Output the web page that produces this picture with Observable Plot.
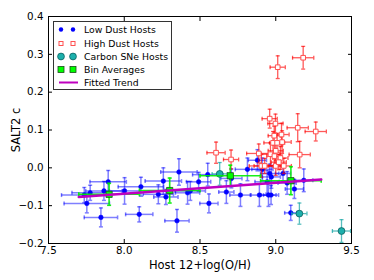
<!DOCTYPE html>
<html>
<head>
<meta charset="utf-8">
<script src="https://cdn.jsdelivr.net/npm/d3@7"></script>
<script src="https://cdn.jsdelivr.net/npm/@observablehq/plot@0.6"></script>
<style>
  html, body { margin: 0; padding: 0; background: #fff; }
  #wrap { position: relative; width: 374px; height: 280px; font-family: "DejaVu Sans", sans-serif; }
  #legend { position: absolute; left: 53px; top: 21px; width: 117px; height: 67px; border: 1px solid #333; background: #fff; box-sizing: content-box; }
  .row { position: absolute; left: 0; height: 13px; display: flex; align-items: center; }
  .row svg { width: 28px; height: 13px; }
  .row span { font-size: 9.3px; color: #000; margin-left: 2px; white-space: nowrap; }
</style>
</head>
<body>
<div id="wrap"></div>
<script>
// Low dust hosts (blue)
const lowX    = [7.736, 7.753, 7.775, 7.846, 7.866, 7.894, 8.002, 8.099, 8.110, 8.225, 8.258, 8.275, 8.348, 8.361, 8.418, 8.436, 8.491, 8.551, 8.559, 8.674, 8.707, 8.767, 8.813, 8.879, 8.892, 8.912, 8.943, 8.952, 8.969, 8.960, 8.971, 9.048, 9.075, 9.099, 9.123, 9.185];
const lowY    = [-0.072, -0.094, -0.066, -0.131, -0.061, -0.037, -0.061, -0.123, -0.050, -0.070, -0.035, -0.077, -0.140, -0.011, -0.066, -0.061, -0.037, -0.018, -0.094, -0.064, -0.028, -0.072, -0.004, 0.020, -0.072, -0.004, -0.037, -0.072, -0.072, -0.015, -0.024, -0.015, -0.040, -0.119, -0.056, -0.033];
const lowXerr = [0.15, 0.15, 0.12, 0.11, 0.12, 0.12, 0.10, 0.09, 0.15, 0.10, 0.12, 0.08, 0.08, 0.12, 0.08, 0.10, 0.08, 0.10, 0.06, 0.05, 0.07, 0.07, 0.08, 0.06, 0.06, 0.07, 0.08, 0.05, 0.05, 0.06, 0.06, 0.05, 0.06, 0.04, 0.06, 0.06];
const lowYerr = [0.020, 0.025, 0.020, 0.025, 0.025, 0.030, 0.035, 0.020, 0.025, 0.025, 0.035, 0.020, 0.030, 0.035, 0.030, 0.025, 0.025, 0.030, 0.025, 0.030, 0.025, 0.030, 0.030, 0.028, 0.030, 0.030, 0.030, 0.030, 0.025, 0.025, 0.030, 0.020, 0.030, 0.020, 0.025, 0.030];

// High dust hosts (red open squares)
const highX    = [8.606, 8.705, 8.888, 8.905, 8.960, 8.998, 9.013, 9.181, 9.145, 9.264, 9.038, 8.982, 9.009, 9.042, 8.965, 8.991, 9.031, 9.158, 8.927, 9.000, 9.053, 8.990, 9.000, 9.020];
const highY    = [0.040, 0.022, 0.038, 0.005, 0.130, 0.117, 0.266, 0.291, 0.106, 0.096, 0.088, 0.066, 0.066, 0.068, 0.036, 0.031, 0.026, 0.035, 0.005, 0.005, 0.005, 0.085, 0.045, 0.015];
const highXerr = [0.06, 0.05, 0.08, 0.08, 0.05, 0.05, 0.05, 0.07, 0.07, 0.07, 0.05, 0.06, 0.05, 0.06, 0.06, 0.05, 0.05, 0.07, 0.07, 0.05, 0.05, 0.04, 0.05, 0.05];
const highYerr = [0.028, 0.025, 0.025, 0.030, 0.025, 0.025, 0.030, 0.030, 0.037, 0.025, 0.030, 0.030, 0.025, 0.030, 0.030, 0.030, 0.030, 0.035, 0.020, 0.025, 0.020, 0.025, 0.025, 0.020];

// Carbon SNe hosts (cyan circles)
const carbonX    = [8.630, 9.156, 9.434];
const carbonY    = [-0.016, -0.121, -0.167];
const carbonXerr = [0.05, 0.05, 0.06];
const carbonYerr = [0.030, 0.028, 0.030];

// Bin averages (green squares)
const binX    = [7.9, 8.3, 8.7, 9.1];
const binY    = [-0.070, -0.060, -0.021, -0.034];
const binXerr = [0.2, 0.2, 0.2, 0.2];
const binYerr = [0.029, 0.033, 0.028, 0.037];

// Fitted trend
const trendX = [7.7, 9.3];
const trendY = [-0.077, -0.031];

// Axis ticks
const xTicks = [7.5, 8.0, 8.5, 9.0, 9.5];
const yTicks = [-0.2, -0.1, 0.0, 0.1, 0.2, 0.3, 0.4];

const rows = (xs, ys, xe, ye) => xs.map((x, i) => ({x, y: ys[i], xe: xe[i], ye: ye[i]}));
const low = rows(lowX, lowY, lowXerr, lowYerr);
const high = rows(highX, highY, highXerr, highYerr);
const carbon = rows(carbonX, carbonY, carbonXerr, carbonYerr);
const bins = rows(binX, binY, binXerr, binYerr);
const trend = trendX.map((x, i) => ({x, y: trendY[i]}));

const vcap = {draw(ctx, size) { const r = Math.sqrt(size / Math.PI); ctx.moveTo(0, -r); ctx.lineTo(0, r); }};
const hcap = {draw(ctx, size) { const r = Math.sqrt(size / Math.PI); ctx.moveTo(-r, 0); ctx.lineTo(r, 0); }};

function errorbars(data, stroke, opacity, width = 1.2) {
  const o = {stroke, strokeOpacity: opacity, strokeWidth: width};
  return [
    Plot.ruleY(data, {y: "y", x1: d => d.x - d.xe, x2: d => d.x + d.xe, ...o}),
    Plot.ruleX(data, {x: "x", y1: d => d.y - d.ye, y2: d => d.y + d.ye, ...o}),
    Plot.dot(data, {x: d => d.x - d.xe, y: "y", symbol: vcap, r: 2, fill: "none", ...o}),
    Plot.dot(data, {x: d => d.x + d.xe, y: "y", symbol: vcap, r: 2, fill: "none", ...o}),
    Plot.dot(data, {x: "x", y: d => d.y - d.ye, symbol: hcap, r: 2, fill: "none", ...o}),
    Plot.dot(data, {x: "x", y: d => d.y + d.ye, symbol: hcap, r: 2, fill: "none", ...o})
  ];
}

const fmt = d3.format(".1f");
const blank = () => "";

const chart = Plot.plot({
  width: 374,
  height: 280,
  marginTop: 16,
  marginRight: 23,
  marginBottom: 37,
  marginLeft: 48,
  style: {fontFamily: "DejaVu Sans, sans-serif", fontSize: "10px", background: "#fff"},
  x: {domain: [7.5, 9.5]},
  y: {domain: [-0.2, 0.4]},
  marks: [
    ...errorbars(low, "#0000ff", 0.5, 1.5),
    Plot.dot(low, {x: "x", y: "y", r: 2.3, fill: "#0000ff", stroke: "#0000ff", strokeWidth: 0.5}),
    ...errorbars(high, "#ff0000", 0.65, 1.3),
    Plot.dot(high, {x: "x", y: "y", symbol: "square", r: 2.6, fill: "#fff", stroke: "#ff5050", strokeWidth: 1}),
    ...errorbars(carbon, "#1fa8a8", 0.75, 1.3),
    Plot.dot(carbon, {x: "x", y: "y", r: 3.4, fill: "#1cb0ac", stroke: "#0d5f5f", strokeWidth: 0.8}),
    ...errorbars(bins, "#00ee00", 0.9, 1.6),
    Plot.dot(bins, {x: "x", y: "y", symbol: "square", r: 3.5, fill: "#00ff00", stroke: "#1a4a1a", strokeWidth: 0.8}),
    Plot.line(trend, {x: "x", y: "y", stroke: "#bf00bf", strokeWidth: 2.6}),
    Plot.frame({stroke: "#000", strokeWidth: 1}),
    Plot.axisX(xTicks, {anchor: "bottom", tickSize: -4, tickPadding: 7, tickFormat: fmt, fontSize: 10.3, label: null}),
    Plot.axisX([], {anchor: "bottom", tickSize: 0, fontSize: 11.5, label: "Host 12+log(O/H)", labelAnchor: "center", labelArrow: "none", labelOffset: 25}),
    Plot.axisX(xTicks, {anchor: "top", tickSize: -4, tickFormat: blank, label: null}),
    Plot.axisY(yTicks, {anchor: "left", tickSize: -4, tickPadding: 9, tickFormat: fmt, fontSize: 10.3, label: null}),
    Plot.axisY([], {anchor: "left", tickSize: 0, fontSize: 11.5, label: "SALT2 c", labelAnchor: "center", labelArrow: "none", labelOffset: 37}),
    Plot.axisY(yTicks, {anchor: "right", tickSize: -4, tickFormat: blank, label: null})
  ]
});

const wrap = document.getElementById("wrap");
wrap.appendChild(chart);

// Legend (real HTML/SVG text overlay inside the axes)
const legendItems = [
  {label: "Low Dust Hosts", kind: "low"},
  {label: "High Dust Hosts", kind: "high"},
  {label: "Carbon SNe Hosts", kind: "carbon"},
  {label: "Bin Averages", kind: "bin"},
  {label: "Fitted Trend", kind: "trend"}
];
const legend = document.createElement("div");
legend.id = "legend";
const rowTops = [1, 14.5, 28, 41, 54];
legendItems.forEach((item, i) => {
  const row = document.createElement("div");
  row.className = "row";
  row.style.top = rowTops[i] + "px";
  let sym = "";
  const pts = [7, 19];
  if (item.kind === "low") sym = pts.map(cx => `<circle cx="${cx}" cy="6.5" r="2.2" fill="#0000ff"/>`).join("");
  if (item.kind === "high") sym = pts.map(cx => `<rect x="${cx-2}" y="4.5" width="4" height="4" fill="#fff" stroke="#ff5050" stroke-width="1"/>`).join("");
  if (item.kind === "carbon") sym = pts.map(cx => `<circle cx="${cx}" cy="6.5" r="3.4" fill="#1cb0ac" stroke="#0d5f5f" stroke-width="0.8"/>`).join("");
  if (item.kind === "bin") sym = pts.map(cx => `<rect x="${cx-3}" y="3.5" width="6" height="6" fill="#00ff00" stroke="#1a4a1a" stroke-width="0.8"/>`).join("");
  if (item.kind === "trend") sym = `<line x1="5" x2="24" y1="6.5" y2="6.5" stroke="#bf00bf" stroke-width="2"/>`;
  row.innerHTML = `<svg viewBox="0 0 28 13">${sym}</svg><span>${item.label}</span>`;
  legend.appendChild(row);
});
wrap.appendChild(legend);
</script>
</body>
</html>
